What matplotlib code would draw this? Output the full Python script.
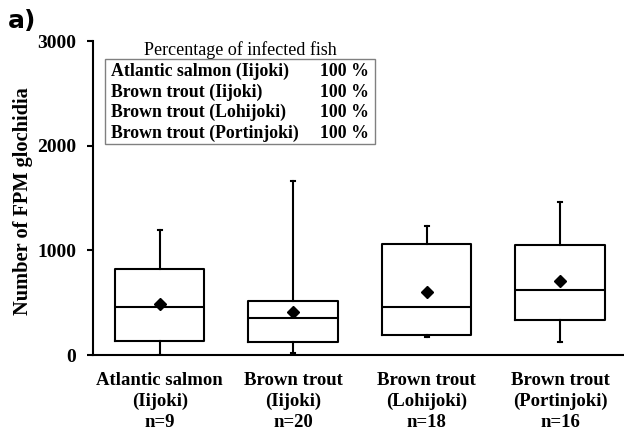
import matplotlib
matplotlib.use("Agg")
import matplotlib.pyplot as plt
from matplotlib.patches import Rectangle

groups = ["Atlantic salmon\n(Iijoki)\nn=9", "Brown trout\n(Iijoki)\nn=20",
          "Brown trout\n(Lohijoki)\nn=18", "Brown trout\n(Portinjoki)\nn=16"]
whisker_low = [0, 22, 175, 127]
q1 = [137, 127, 194, 340]
median = [461, 350, 464, 621]
q3 = [822, 516, 1057, 1047]
whisker_high = [1194, 1665, 1235, 1461]
means = [484, 411, 599, 707]

legend_names = ["Atlantic salmon (Iijoki)", "Brown trout (Iijoki)",
                "Brown trout (Lohijoki)", "Brown trout (Portinjoki)"]
legend_pct = ["100 %", "100 %", "100 %", "100 %"]
yticks = [0, 1000, 2000, 3000]

serif = ["Liberation Serif", "DejaVu Serif"]

fig = plt.figure(figsize=(6.24, 4.32), dpi=100)
ax = fig.add_axes([0.149, 0.178, 0.851, 0.727])

stats = []
for i in range(len(groups)):
    stats.append(dict(whislo=whisker_low[i], q1=q1[i], med=median[i], q3=q3[i],
                      whishi=whisker_high[i], mean=means[i], fliers=[], label=groups[i]))

ax.bxp(stats, positions=range(1, len(groups) + 1), widths=0.67, showmeans=True,
       showfliers=False, capwidths=0.03,
       boxprops=dict(color="black", linewidth=1.5),
       medianprops=dict(color="black", linewidth=1.5),
       whiskerprops=dict(color="black", linewidth=1.5),
       capprops=dict(color="black", linewidth=1.5),
       meanprops=dict(marker="D", markerfacecolor="black", markeredgecolor="black",
                      markersize=6.5))

ax.set_xlim(0.5, 4.48)
ax.set_ylim(0, 3000)
ax.set_yticks(yticks)
ax.spines["top"].set_visible(False)
ax.spines["right"].set_visible(False)
for s in ("left", "bottom"):
    ax.spines[s].set_linewidth(1.5)
ax.tick_params(axis="y", direction="out", length=4, width=1.5, pad=8)
ax.tick_params(axis="x", length=0, pad=12)
for lab in ax.get_yticklabels():
    lab.set_fontfamily(serif)
    lab.set_fontweight("bold")
    lab.set_fontsize(14)
for lab in ax.get_xticklabels():
    lab.set_fontfamily(serif)
    lab.set_fontweight("bold")
    lab.set_fontsize(13.5)
    lab.set_linespacing(1.3)
ax.set_ylabel("Number of FPM glochidia", fontfamily=serif, fontweight="bold", fontsize=14.7)
ax.yaxis.set_label_coords(-0.113, 0.49)

# inset legend box
fig.patches.append(Rectangle((0.168, 0.667), 0.433, 0.196, transform=fig.transFigure,
                             facecolor="none", edgecolor="#808080", linewidth=1.0))
fig.text(0.385, 0.884, "Percentage of infected fish", ha="center", va="center",
         fontfamily=serif, fontsize=13)
row_y = [0.834, 0.786, 0.739, 0.691]
for name, pct, y in zip(legend_names, legend_pct, row_y):
    fig.text(0.178, y, name, ha="left", va="center", fontfamily=serif,
             fontweight="bold", fontsize=12.8)
    fig.text(0.591, y, pct, ha="right", va="center", fontfamily=serif,
             fontweight="bold", fontsize=12.8)

fig.text(0.013, 0.952, "a)", ha="left", va="center", fontfamily="DejaVu Sans",
         fontweight="bold", fontsize=18)

fig.savefig("out.png", dpi=100)
